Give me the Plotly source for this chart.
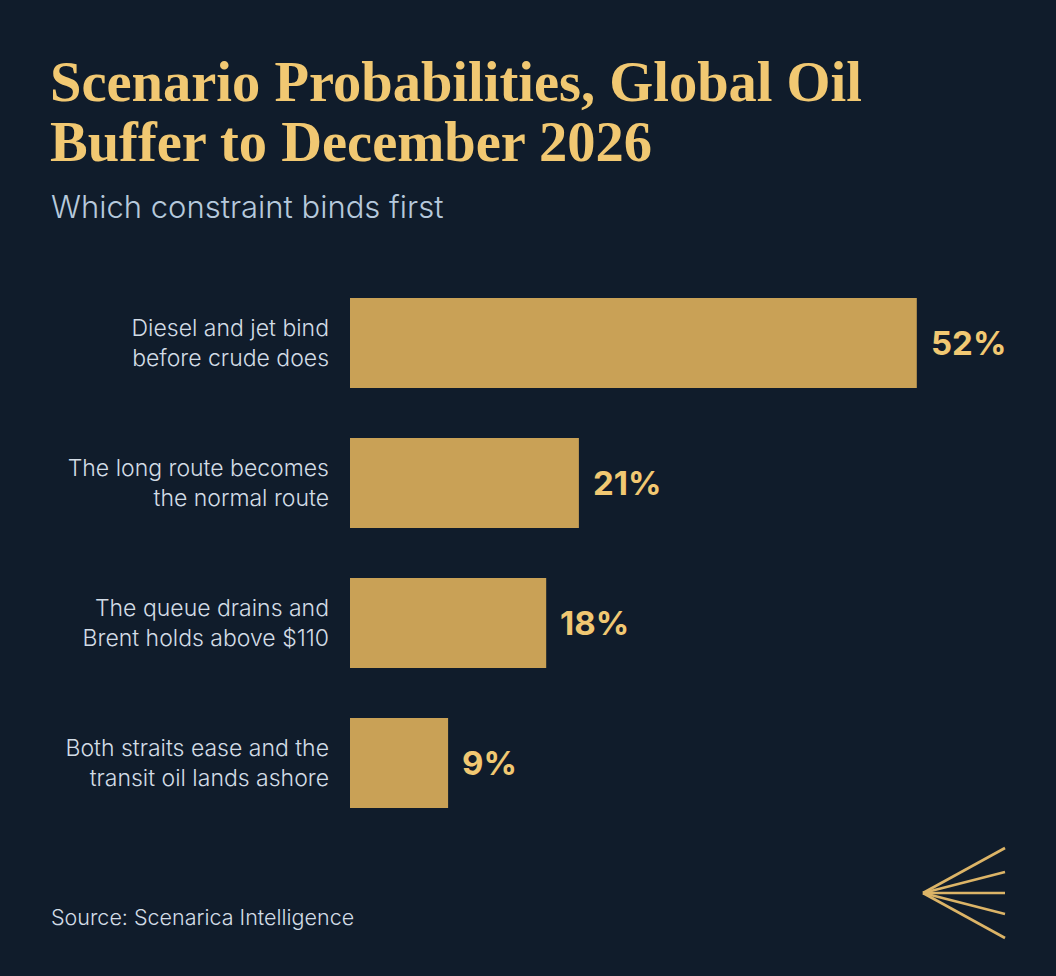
import plotly.graph_objects as go

# chart data
scenarios = [
    "Diesel and jet bind<br>before crude does",
    "The long route becomes<br>the normal route",
    "The queue drains and<br>Brent holds above $110",
    "Both straits ease and the<br>transit oil lands ashore",
]
probabilities = [52, 21, 18, 9]
value_labels = ["52%", "21%", "18%", "9%"]

title_lines = ["Scenario Probabilities, Global Oil", "Buffer to December 2026"]
subtitle_text = "Which constraint binds first"
source_text = "Source: Scenarica Intelligence"

BG = "#101c2b"
GOLD = "#c9a156"
GOLD_TEXT = "#f1c872"
LABEL = "#d3dce6"
SUB = "#b6c9dc"
SANS = "Inter, Roboto, sans-serif"
SERIF = "Liberation Serif, DejaVu Serif, serif"

W, H = 1056, 976
L, R, T, B = 350, 0, 273, 143
PW, PH = W - L - R, H - T - B


def px(x, y):
    # page pixels -> paper coords
    return (x - L) / PW, 1 - (y - T) / PH


def page_text(x, y, text, font):
    ax_, ay_ = px(x, y)
    fig.add_annotation(x=ax_, y=ay_, xref="paper", yref="paper", text=text,
                       showarrow=False, xanchor="left", yanchor="middle", font=font)


fig = go.Figure(go.Bar(
    x=probabilities,
    y=scenarios,
    orientation="h",
    marker=dict(color=GOLD, line=dict(width=0)),
    hoverinfo="skip",
))

for s, v, t in zip(scenarios, probabilities, value_labels):
    fig.add_annotation(x=v, y=s, text="<b>" + t + "</b>", showarrow=False,
                       xanchor="left", xshift=12,
                       font=dict(family=SANS, size=33, color=GOLD_TEXT))

# title, one annotation per line so the spacing is controlled
page_text(48, 82, title_lines[0], dict(family=SERIF, size=56.5, color=GOLD_TEXT, weight=700))
page_text(48, 142, title_lines[1], dict(family=SERIF, size=56.5, color=GOLD_TEXT, weight=700))

page_text(49, 206, subtitle_text, dict(family=SANS, size=31, color=SUB, weight=300))
page_text(49, 917, source_text, dict(family=SANS, size=21.5, color=LABEL, weight=300))

# fan logo, bottom right
ax, ay = px(923, 893)
for ey in [848, 872, 893, 914, 938]:
    ex, ey2 = px(1005, ey)
    fig.add_shape(type="line", xref="paper", yref="paper", x0=ax, y0=ay, x1=ex, y1=ey2,
                  line=dict(color="#dcb467", width=2.6))

fig.update_layout(
    width=W, height=H,
    margin=dict(l=L, r=R, t=T, b=B),
    paper_bgcolor=BG, plot_bgcolor=BG,
    showlegend=False,
    bargap=0.357,
    xaxis=dict(range=[0, PW / 10.9], visible=False, fixedrange=True),
    yaxis=dict(autorange="reversed", showgrid=False, zeroline=False, showline=False,
               ticks="", ticklabelstandoff=20,
               tickfont=dict(family=SANS, size=23, color=LABEL, weight=300)),
)

# page has a default body margin; drop it so the figure sits at 0,0
fig.write_html("out.html", config={"displayModeBar": False},
               post_script="document.body.style.margin='0';")
